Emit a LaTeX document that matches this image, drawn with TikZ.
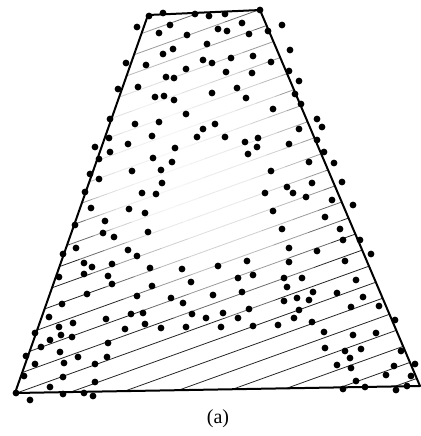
\documentclass[tikz,border=0pt]{standalone}
\usepackage{fontspec}
\setmainfont{Liberation Serif}
\usepackage{tikz}
\usetikzlibrary{calc}

\begin{document}
\begin{tikzpicture}[
  x=0.5pt, y=-0.5pt,
  font=\normalsize,
  region/.style={draw, line width=1pt, line join=round},
  hatch/.style={line width=0.4pt, black!85},
  fadeout/.style={fill=white, fill opacity=0.32, draw=none},
  sample/.style={fill=black},
]
\useasboundingbox (0,0) rectangle (421,436);

% Corners of the region
\coordinate (tl) at (148,15);
\coordinate (tr) at (260,10);
\coordinate (br) at (420,386);
\coordinate (bl) at (15,393);

% Hatching, clipped to the region and faded towards the hole
\begin{scope}
  \clip (tl) -- (tr) -- (br) -- (bl) -- cycle;
  \foreach \k in {-9,...,18}
    \draw[hatch] (0,{399-18.5*\k}) -- (440,{399-18.5*\k-158.4});
  \foreach \rx/\ry in {150/150, 125/125, 105/105, 85/88, 68/70, 52/55}
    \fill[fadeout] (200,170) ellipse ({\rx} and {\ry});
  \foreach \rx/\ry in {60/85, 45/65}
    \fill[fadeout] (145,160) ellipse ({\rx} and {\ry});
  \fill[fadeout] (190,60) ellipse (110 and 60);
\end{scope}

% Region outline
\draw[region] (tl) -- (tr) -- (br) -- (bl) -- cycle;

% Sample points
\foreach \px/\py in {
  149/16, 163/13, 195/14, 209/16, 225/14, 260/10,
  137/27, 170/25, 159/33, 187/35, 218/29, 227/31, 242/23, 249/34, 268/31, 282/25,
  207/44, 173/49, 163/54, 203/60, 290/50, 231/58, 253/56, 271/62, 212/63,
  126/63, 146/65, 186/69, 166/77, 174/78, 226/72, 252/73, 289/71, 299/81,
  118/89, 138/87, 155/97, 164/96, 174/100, 212/93, 237/88, 246/98, 295/94, 301/104,
  186/114, 110/119, 135/124, 159/122, 203/129, 197/137, 215/124, 273/109, 317/119, 322/127, 299/129,
  152/136, 109/138, 128/144, 95/147, 110/152, 175/148, 225/137, 245/142, 258/138, 257/147,
  248/154, 289/144, 317/140, 324/152,
  99/159, 153/158, 172/162, 334/163, 309/162,
  132/171, 161/170, 90/174, 99/179, 162/183, 271/171, 342/182, 312/183, 287/187, 293/193,
  265/193, 306/197, 142/193, 156/194, 85/192, 332/200, 353/205,
  91/208, 129/209, 145/213, 273/211, 325/217, 105/221,
  75/225, 103/233, 114/237, 148/232, 340/229, 282/229,
  76/248, 63/254, 128/250, 137/256, 343/240, 360/240, 289/248, 317/251, 371/254,
  84/263, 92/267, 112/264, 150/268, 182/269, 345/261, 247/261, 289/262, 218/266,
  84/274, 59/277, 108/276, 253/275, 238/278, 284/278, 302/278, 356/280,
  112/284, 152/286, 191/282, 287/287,
  87/294, 137/296, 171/298, 213/295, 242/292, 313/292, 337/293, 183/303, 62/304,
  284/301, 297/298, 309/300, 363/297,
  49/317, 106/319, 131/314, 143/313, 145/324, 192/314, 206/318, 249/309, 299/310,
  351/307, 379/306, 223/313, 238/318, 294/318,
  59/327, 73/323, 125/329, 161/328, 186/327, 221/327, 253/326, 278/325, 312/322, 395/320,
  35/333, 61/335, 50/340, 72/337, 324/332, 353/335, 376/333,
  41/347, 108/343, 325/348, 345/351, 361/349, 401/351,
  60/352, 26/356, 78/357, 107/357, 350/358,
  35/364, 64/363, 95/364, 337/365, 351/368, 394/366, 415/364,
  24/376, 63/377, 95/382, 356/381, 386/375, 411/376,
  50/387, 16/393, 30/400, 63/394, 84/393, 93/396, 343/389, 365/387, 396/390, 407/386}
  \fill[sample] (\px,\py) circle (1.7pt);

% Caption
\node (caption) at (218,419) {(a)};
\end{tikzpicture}
\end{document}
